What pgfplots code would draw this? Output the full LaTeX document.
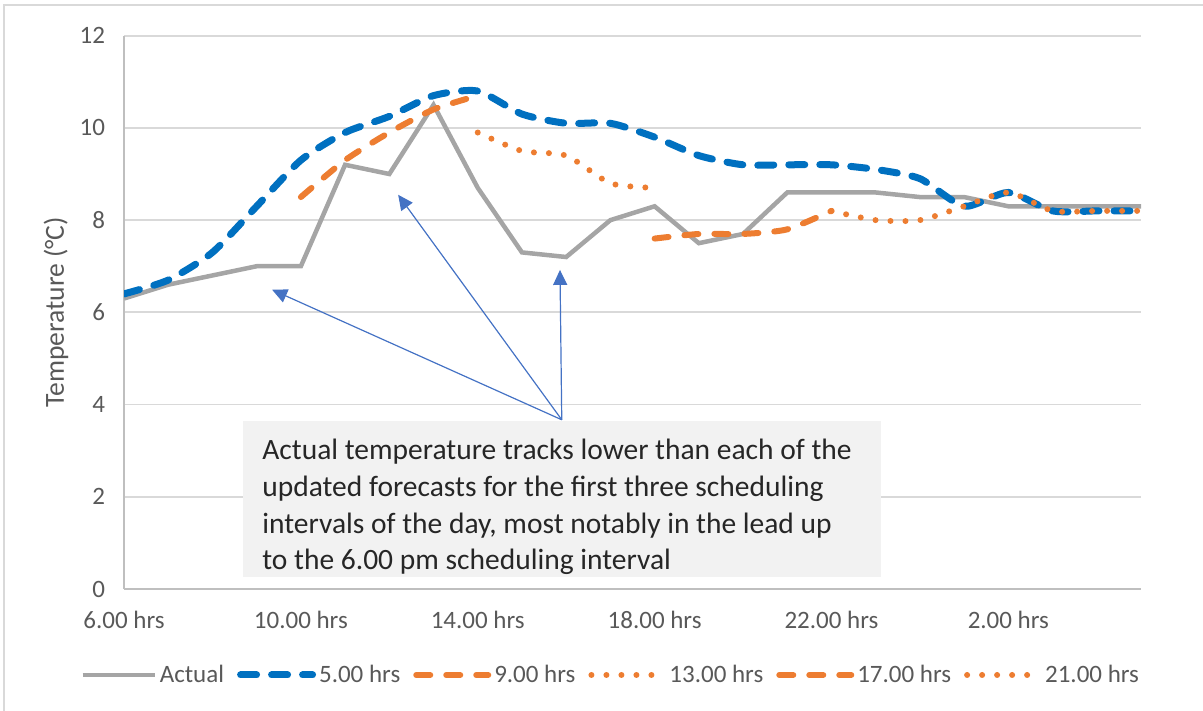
\documentclass[border=0pt]{standalone}
\usepackage{fontspec}
\setmainfont{Carlito}
\usepackage{pgfplots}
\pgfplotsset{compat=1.18}
\usetikzlibrary{arrows.meta}
\definecolor{actgray}{HTML}{A5A5A5}
\definecolor{fcblue}{HTML}{0070C0}
\definecolor{fcorange}{HTML}{ED7D31}
\definecolor{gridgray}{HTML}{D9D9D9}
\definecolor{axisgray}{HTML}{BFBFBF}
\definecolor{labelgray}{HTML}{595959}
\definecolor{arrowblue}{HTML}{4472C4}
\definecolor{boxgray}{HTML}{F2F2F2}
\begin{document}
\begin{tikzpicture}[x=1pt,y=1pt]
\useasboundingbox (0,0) rectangle (601.5,355.5);
\draw[gridgray, line width=0.75pt] (2,0) -- (2,353) -- (601.5,353);
\begin{axis}[
  at={(62pt,61pt)}, anchor=south west,
  scale only axis, width=508.5pt, height=276.65pt,
  xmin=0, xmax=23, ymin=0, ymax=12,
  xtick={0,4,8,12,16,20},
  xticklabels={6.00 hrs,10.00 hrs,14.00 hrs,18.00 hrs,22.00 hrs,2.00 hrs},
  ytick={0,2,4,6,8,10,12},
  ymajorgrids, grid style={gridgray, line width=0.9pt},
  axis x line*=bottom, axis y line*=left,
  axis line style={-, draw=axisgray, line width=0.9pt},
  major tick length=0pt,
  /pgf/number format/assume math mode=true,
  tick label style={font=\fontsize{12.5}{15}\selectfont, text=labelgray},
  yticklabel style={xshift=-6pt},
  xticklabel style={yshift=-7.5pt},
  ylabel={Temperature (°C)},
  ylabel style={at={(axis description cs:-0.0669,0.5)}, anchor=center, font=\fontsize{13.8}{16}\selectfont, text=labelgray},
  legend columns=6,
  legend cell align=left,
  legend style={at={(axis description cs:0.479,-0.1554)}, anchor=center, draw=none, fill=none,
    font=\fontsize{12.5}{15}\selectfont, text=labelgray,
    nodes={inner xsep=1.5pt},
    /tikz/every odd column/.append style={column sep=0pt},
    /tikz/every even column/.append style={column sep=5pt}},
  legend image code/.code={\draw[#1] (0pt,0pt) -- (36pt,0pt);},
]
\addplot[actgray, line width=2.25pt] coordinates {
(0,6.3)(1,6.6)(2,6.8)(3,7.0)(4,7.0)(5,9.2)(6,9.0)(7,10.5)(8,8.7)(9,7.3)(10,7.2)(11,8.0)
(12,8.3)(13,7.5)(14,7.7)(15,8.6)(16,8.6)(17,8.6)(18,8.5)(19,8.5)(20,8.3)(21,8.3)(22,8.3)(23,8.3)};
\addlegendentry{Actual}
\addplot[fcblue, line width=3.5pt, line cap=round, dash pattern=on 8pt off 7.5pt, smooth, tension=0.4] coordinates {
(0,6.4)(1,6.7)(2,7.3)(3,8.3)(4,9.3)(5,9.9)(6,10.25)(7,10.7)(8,10.8)(9,10.3)(10,10.1)(11,10.1)
(12,9.8)(13,9.4)(14,9.2)(15,9.2)(16,9.2)(17,9.1)(18,8.9)(19,8.3)(20,8.6)(21,8.2)(22,8.2)(23,8.2)};
\addlegendentry{5.00 hrs}
\addplot[fcorange, line width=3pt, line cap=round, dash pattern=on 7pt off 8pt, smooth, tension=0.4] coordinates {
(4,8.5)(5,9.3)(6,9.9)(7,10.4)(8,10.7)};
\addlegendentry{9.00 hrs}
\addplot[fcorange, line width=3pt, line cap=round, dash pattern=on 0pt off 7.5pt, smooth, tension=0.4] coordinates {
(8,9.9)(9,9.5)(10,9.4)(11,8.8)(12,8.7)};
\addlegendentry{13.00 hrs}
\addplot[fcorange, line width=3pt, line cap=round, dash pattern=on 7pt off 8pt, smooth, tension=0.4] coordinates {
(12,7.6)(13,7.7)(14,7.7)(15,7.8)(16,8.2)};
\addlegendentry{17.00 hrs}
\addplot[fcorange, line width=3pt, line cap=round, dash pattern=on 0pt off 7.5pt, smooth, tension=0.4] coordinates {
(16,8.2)(17,8.0)(18,8.0)(19,8.3)(20,8.6)(21,8.2)(22,8.2)(23,8.2)};
\addlegendentry{21.00 hrs}
\fill[boxgray] (axis cs:2.69,0.26) rectangle (axis cs:17.13,3.64);
\node[anchor=north west, inner sep=0pt, align=left, text=black!85,
  font=\fontsize{14.75}{18.3}\selectfont] at (axis cs:3.12,3.254)
  {Actual temperature tracks lower than each of the\\
   updated forecasts for the first three scheduling\\
   intervals of the day, most notably in the lead up\\
   to the 6.00 pm scheduling interval};
\draw[arrowblue, line width=0.6pt, -{Triangle[length=7.5pt,width=7pt]}] (axis cs:9.9,3.67) -- (axis cs:3.35,6.49);
\draw[arrowblue, line width=0.6pt, -{Triangle[length=7.5pt,width=7pt]}] (axis cs:9.9,3.67) -- (axis cs:6.2,8.55);
\draw[arrowblue, line width=0.6pt, -{Triangle[length=7.5pt,width=7pt]}] (axis cs:9.9,3.67) -- (axis cs:9.86,6.92);
\end{axis}
\end{tikzpicture}
\end{document}
